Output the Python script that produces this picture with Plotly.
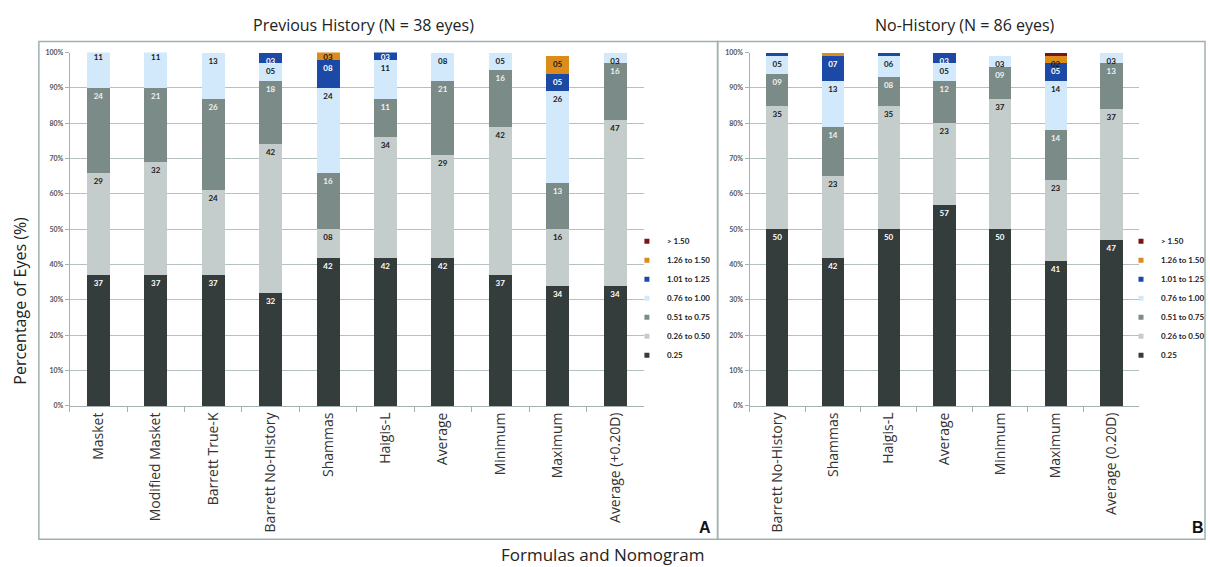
import plotly.graph_objects as go

# ---- data: percentage of eyes per prediction-error band ----
cats_a = ["Masket", "Modified Masket", "Barrett True-K", "Barrett No-History", "Shammas",
          "Haigis-L", "Average", "Minimum", "Maximum", "Average (+0.20D)"]
a_025 = [37, 37, 37, 32, 42, 42, 42, 37, 34, 34]
a_026 = [29, 32, 24, 42, 8, 34, 29, 42, 16, 47]
a_051 = [24, 21, 26, 18, 16, 11, 21, 16, 13, 16]
a_076 = [11, 11, 13, 5, 24, 11, 8, 5, 26, 3]
a_101 = [0, 0, 0, 3, 8, 3, 0, 0, 5, 0]
a_126 = [0, 0, 0, 0, 3, 0, 0, 0, 5, 0]
a_150 = [0, 0, 0, 0, 0, 0, 0, 0, 0, 0]

cats_b = ["Barrett No-History", "Shammas", "Haigis-L", "Average", "Minimum", "Maximum",
          "Average (0.20D)"]
b_025 = [50, 42, 50, 57, 50, 41, 47]
b_026 = [35, 23, 35, 23, 37, 23, 37]
b_051 = [9, 14, 8, 12, 9, 14, 13]
b_076 = [5, 13, 6, 5, 3, 14, 3]
b_101 = [1, 7, 1, 3, 0, 5, 0]
b_126 = [0, 1, 0, 0, 0, 2, 0]
b_150 = [0, 0, 0, 0, 0, 1, 0]

band_names = ["0.25", "0.26 to 0.50", "0.51 to 0.75", "0.76 to 1.00",
              "1.01 to 1.25", "1.26 to 1.50", "> 1.50"]
band_a = [a_025, a_026, a_051, a_076, a_101, a_126, a_150]
band_b = [b_025, b_026, b_051, b_076, b_101, b_126, b_150]

# ---- styling ----
band_colors = ["#353c3c", "#c5cdcc", "#7b8b88", "#d1e9fb", "#1d49a6", "#db8c1a", "#7c1416"]
label_colors = ["#ffffff", "#1a1a1a", "#eef2f2", "#1a1a1a", "#ffffff", "#1a1a1a", "#ffffff"]

W, H = 1210, 567
def fx(px):
    return px / W
def fy(py):
    return 1 - py / H

AXIS_COL = "#a3b1b0"
GRID_COL = "#b4c1c0"
BOX_COL = "#9fb1ae"
LABEL_FONT = "Lato"
MAIN_FONT = "Open Sans"

fig = go.Figure()

for i, name in enumerate(band_names):
    for cats, vals, xa, ya, lg in [(cats_a, band_a[i], "x", "y", "legend"),
                                   (cats_b, band_b[i], "x2", "y2", "legend2")]:
        fig.add_bar(
            x=cats, y=vals, name=name, legendgroup=name, showlegend=False,
            marker=dict(color=band_colors[i], line=dict(width=0)),
            text=[f"{v:02d}" if v >= 2 else "" for v in vals],
            textposition="inside", insidetextanchor="end", textangle=0,
            textfont=dict(family=LABEL_FONT, size=8, color=label_colors[i], weight="bold"),
            xaxis=xa, yaxis=ya,
        )
        # small square legend key for this band
        fig.add_scatter(
            x=[None], y=[None], mode="markers", name=name, legendgroup=name,
            marker=dict(symbol="square", size=5, color=band_colors[i]),
            xaxis=xa, yaxis=ya, legend=lg, showlegend=True,
        )

xcommon = dict(type="category", tickangle=-90, showgrid=False, showline=True,
               linecolor=AXIS_COL, linewidth=1, ticks="outside", tickson="boundaries",
               ticklen=5, tickcolor=AXIS_COL,
               tickfont=dict(family=MAIN_FONT, size=14, color="#333333"))
ycommon = dict(range=[0, 100], dtick=10, ticksuffix="%", showgrid=True, gridcolor=GRID_COL,
               gridwidth=1, zeroline=False, showline=True, linecolor=AXIS_COL, linewidth=1,
               ticks="outside", ticklen=4, tickcolor=AXIS_COL,
               domain=[fy(406.7), fy(48.3)],
               tickfont=dict(family=LABEL_FONT, size=7, color="#555555", weight="bold"))

legcommon = dict(xanchor="left", yanchor="top", traceorder="reversed", itemwidth=30,
                 bgcolor="rgba(0,0,0,0)", itemsizing="trace",
                 font=dict(family=LABEL_FONT, size=8, color="#222222", weight="bold"))

def note(text, x, y, size, family=MAIN_FONT, angle=0, color="#222222"):
    return dict(text=text, x=fx(x), y=fy(y), xref="paper", yref="paper",
                xanchor="center", yanchor="middle", showarrow=False, textangle=angle,
                font=dict(family=family, size=size, color=color))

fig.update_layout(
    width=W, height=H, margin=dict(l=0, r=0, t=0, b=0),
    paper_bgcolor="white", plot_bgcolor="white",
    barmode="stack", bargap=0.6,
    uniformtext=dict(minsize=8, mode="show"),
    xaxis=dict(domain=[fx(70), fx(646)], anchor="y", **xcommon),
    yaxis=dict(anchor="x", **ycommon),
    xaxis2=dict(domain=[fx(752), fx(1143)], anchor="y2", **xcommon),
    yaxis2=dict(anchor="x2", **ycommon),
    legend=dict(x=fx(629), y=fy(225), **legcommon),
    legend2=dict(x=fx(1125), y=fy(225), **legcommon),
    shapes=[
        dict(type="rect", xref="paper", yref="paper", x0=fx(39), x1=fx(720),
             y0=fy(542), y1=fy(37), line=dict(color=BOX_COL, width=1.5)),
        dict(type="rect", xref="paper", yref="paper", x0=fx(720), x1=fx(1209),
             y0=fy(542), y1=fy(37), line=dict(color=BOX_COL, width=1.5)),
    ],
    annotations=[
        note("Previous History (N = 38 eyes)", 365, 20, 16),
        note("No-History (N = 86 eyes)", 968, 20, 16),
        note("Percentage of Eyes (%)", 20, 300, 16, angle=-90),
        note("Formulas and Nomogram", 604, 557, 17),
        note("<b>A</b>", 707, 530, 16, family="Liberation Sans", color="#111111"),
        note("<b>B</b>", 1202, 530, 16, family="Liberation Sans", color="#111111"),
    ],
)

fig.write_html("out.html")
